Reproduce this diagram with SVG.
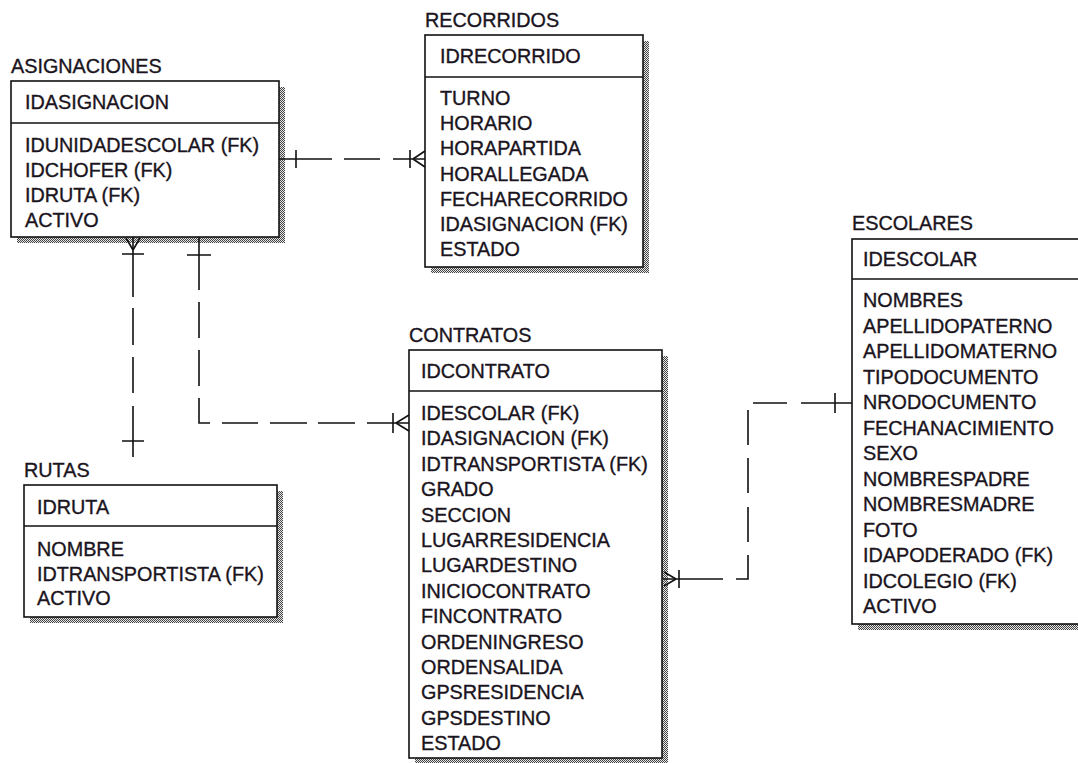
<svg xmlns="http://www.w3.org/2000/svg" width="1078" height="763" viewBox="0 0 1078 763">
<style>
.bg{fill:#fff}
.box{fill:#fff;stroke:#111;stroke-width:1.6}
.sh{fill:url(#dots)}
.sep{stroke:#111;stroke-width:1.6}
text{font-family:"Liberation Sans",Arial,sans-serif;font-size:19.8px;fill:#1a1420;stroke:#1a1420;stroke-width:0.35}
.c{fill:none;stroke:#111;stroke-width:1.6}
</style>
<defs>
<pattern id="dots" width="2" height="2" patternUnits="userSpaceOnUse">
<rect width="2" height="2" fill="#e8e8e8"/>
<rect width="1" height="1" fill="#444"/>
<rect x="1" y="1" width="1" height="1" fill="#444"/>
</pattern>
</defs>
<rect class="bg" width="1078" height="763"/>

<g id="asignaciones">
<text x="11" y="73">ASIGNACIONES</text>
<rect class="sh" x="17" y="87" width="268" height="156"/>
<rect class="box" x="11" y="81" width="268" height="156"/>
<line class="sep" x1="11" y1="123" x2="279" y2="123"/>
<text x="25" y="109">IDASIGNACION</text>
<text x="25" y="152">IDUNIDADESCOLAR (FK)</text>
<text x="25" y="177">IDCHOFER (FK)</text>
<text x="25" y="202">IDRUTA (FK)</text>
<text x="25" y="227">ACTIVO</text>
</g>

<g id="recorridos">
<text x="425" y="27">RECORRIDOS</text>
<rect class="sh" x="431" y="41" width="218" height="232"/>
<rect class="box" x="425" y="35" width="218" height="232"/>
<line class="sep" x1="425" y1="77" x2="643" y2="77"/>
<text x="440" y="63">IDRECORRIDO</text>
<text x="440" y="105">TURNO</text>
<text x="440" y="130">HORARIO</text>
<text x="440" y="155">HORAPARTIDA</text>
<text x="440" y="181">HORALLEGADA</text>
<text x="440" y="206">FECHARECORRIDO</text>
<text x="440" y="231">IDASIGNACION (FK)</text>
<text x="440" y="256">ESTADO</text>
</g>

<g id="rutas">
<text x="24" y="477">RUTAS</text>
<rect class="sh" x="30" y="491" width="253" height="132"/>
<rect class="box" x="24" y="485" width="253" height="132"/>
<line class="sep" x1="24" y1="526" x2="277" y2="526"/>
<text x="37" y="514">IDRUTA</text>
<text x="37" y="556">NOMBRE</text>
<text x="37" y="581">IDTRANSPORTISTA (FK)</text>
<text x="37" y="605">ACTIVO</text>
</g>

<g id="contratos">
<text x="409" y="342">CONTRATOS</text>
<rect class="sh" x="415" y="356" width="253" height="408"/>
<rect class="box" x="409" y="350" width="253" height="408"/>
<line class="sep" x1="409" y1="391" x2="662" y2="391"/>
<text x="421" y="378">IDCONTRATO</text>
<text x="421" y="420">IDESCOLAR (FK)</text>
<text x="421" y="445.4">IDASIGNACION (FK)</text>
<text x="421" y="470.8">IDTRANSPORTISTA (FK)</text>
<text x="421" y="496.2">GRADO</text>
<text x="421" y="521.6">SECCION</text>
<text x="421" y="547">LUGARRESIDENCIA</text>
<text x="421" y="572.4">LUGARDESTINO</text>
<text x="421" y="597.8">INICIOCONTRATO</text>
<text x="421" y="623.2">FINCONTRATO</text>
<text x="421" y="648.6">ORDENINGRESO</text>
<text x="421" y="674">ORDENSALIDA</text>
<text x="421" y="699.4">GPSRESIDENCIA</text>
<text x="421" y="724.8">GPSDESTINO</text>
<text x="421" y="750.2">ESTADO</text>
</g>

<g id="escolares">
<text x="852" y="230">ESCOLARES</text>
<rect class="sh" x="858" y="245" width="250" height="385"/>
<rect class="box" x="852" y="239" width="250" height="385"/>
<line class="sep" x1="852" y1="279" x2="1102" y2="279"/>
<text x="863" y="266">IDESCOLAR</text>
<text x="863" y="307">NOMBRES</text>
<text x="863" y="332.5">APELLIDOPATERNO</text>
<text x="863" y="358">APELLIDOMATERNO</text>
<text x="863" y="383.5">TIPODOCUMENTO</text>
<text x="863" y="409">NRODOCUMENTO</text>
<text x="863" y="434.5">FECHANACIMIENTO</text>
<text x="863" y="460">SEXO</text>
<text x="863" y="485.5">NOMBRESPADRE</text>
<text x="863" y="511">NOMBRESMADRE</text>
<text x="863" y="536.5">FOTO</text>
<text x="863" y="562">IDAPODERADO (FK)</text>
<text x="863" y="587.5">IDCOLEGIO (FK)</text>
<text x="863" y="613">ACTIVO</text>
</g>

<g id="connectors">
<!-- ASIGNACIONES - RECORRIDOS -->
<path class="c" d="M279,159 H332 M344,159 H380 M393,159 H425"/>
<path class="c" d="M296,150 V168 M410,150 V168 M413,159 L425,151 M413,159 L425,167"/>
<!-- ASIGNACIONES - RUTAS -->
<path class="c" d="M133,237 V297 M133,308 V345 M133,357 V393 M133,406 V457"/>
<path class="c" d="M122,254 H144 M133,250 L126,238 M133,250 L140,238 M122,441 H144"/>
<!-- ASIGNACIONES - CONTRATOS -->
<path class="c" d="M199,237 V290 M199,302 V338 M199,350 V386 M199,398 V423 H210 M222,423 H258 M270,423 H307 M318,423 H355 M367,423 H409"/>
<path class="c" d="M187,255 H211 M393,413 V433 M396,423 L409,415 M396,423 L409,431"/>
<!-- CONTRATOS - ESCOLARES -->
<path class="c" d="M663,579 H723 M736,579 H748 V555 M748,542 V507 M748,493 V458 M748,445 V410 M753,403 H787 M801,403 H852"/>
<path class="c" d="M835,393 V413 M679,570 V588 M676,579 L664,572 M676,579 L664,586"/>
</g>
</svg>
